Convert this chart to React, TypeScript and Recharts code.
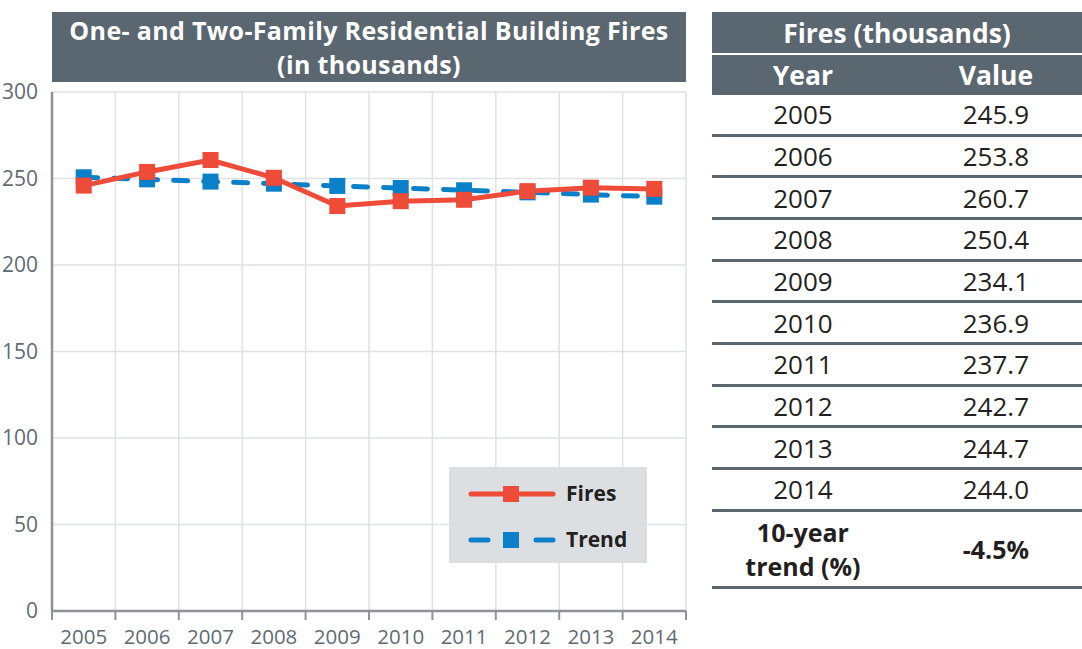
import React from 'react';
import { ComposedChart, Line, XAxis, YAxis, CartesianGrid, Legend } from 'recharts';

const years = ['2005', '2006', '2007', '2008', '2009', '2010', '2011', '2012', '2013', '2014'];
const firesValues = [245.9, 253.8, 260.7, 250.4, 234.1, 236.9, 237.7, 242.7, 244.7, 244.0];
const trendValues = [250.7, 249.5, 248.2, 247.0, 245.7, 244.5, 243.2, 242.0, 240.7, 239.5];
const yTicks = [0, 50, 100, 150, 200, 250, 300];
const gridTicks = [0, 1, 2, 3, 4, 5, 6, 7, 8, 9, 10];
const labelTicks = [0.5, 1.5, 2.5, 3.5, 4.5, 5.5, 6.5, 7.5, 8.5, 9.5];
const trendPercent = '-4.5%';

const RED = '#ee4b39';
const BLUE = '#0a80c8';
const DARK = '#5a6670';
const AXIS = '#8e9399';
const GRID = '#dfe1e4';
const FONT = '"Open Sans", "DejaVu Sans", sans-serif';

const data = years.map((year, i) => ({
  pos: i + 0.5,
  year,
  fires: firesValues[i],
  trend: trendValues[i],
}));

const squareDot = (color: string) => (props: any) => {
  const { cx, cy, index } = props;
  if (cx == null || cy == null) return <g key={index} />;
  return <rect key={index} x={cx - 8} y={cy - 8} width={16} height={16} fill={color} />;
};

const LegendBox = () => (
  <div style={{ width: 198, height: 96, background: '#dcdfe2', position: 'relative', fontFamily: FONT }}>
    <svg width={198} height={96} style={{ position: 'absolute', left: 0, top: 0 }}>
      <line x1={22} y1={27} x2={104} y2={27} stroke={RED} strokeWidth={5} strokeLinecap="round" />
      <rect x={54} y={19} width={16} height={16} fill={RED} />
      <line x1={22} y1={73} x2={39} y2={73} stroke={BLUE} strokeWidth={5} strokeLinecap="round" />
      <line x1={87} y1={73} x2={104} y2={73} stroke={BLUE} strokeWidth={5} strokeLinecap="round" />
      <rect x={54} y={65} width={16} height={16} fill={BLUE} />
      <text x={117} y={34} fontSize={21} fontWeight={700} fill="#231f20" fontFamily={FONT}>Fires</text>
      <text x={117} y={80} fontSize={21} fontWeight={700} fill="#231f20" fontFamily={FONT}>Trend</text>
    </svg>
  </div>
);

const rowStyle: React.CSSProperties = {
  display: 'flex',
  alignItems: 'center',
  height: 38.67,
  borderBottom: `3px solid ${DARK}`,
  fontSize: 26,
  color: '#231f20',
};

export default function App() {
  return (
    <div style={{ position: 'absolute', left: 0, top: 0, width: 1082, height: 649, background: '#fff', fontFamily: FONT }}>
      <div
        style={{
          position: 'absolute', left: 52, top: 12, width: 634, height: 70, background: DARK,
          color: '#fff', fontWeight: 700, fontSize: 25, letterSpacing: 0.35, lineHeight: '34px', textAlign: 'center',
          display: 'flex', flexDirection: 'column', justifyContent: 'center', whiteSpace: 'nowrap',
        }}
      >
        <div style={{ height: 34 }}>One- and Two-Family Residential Building Fires</div>
        <div style={{ height: 34 }}>(in thousands)</div>
      </div>

      <div style={{ position: 'absolute', left: 0, top: 0 }}>
        <ComposedChart width={700} height={649} data={data} margin={{ top: 92, right: 14, left: 0, bottom: 0 }}>
          <CartesianGrid xAxisId="grid" stroke={GRID} strokeWidth={1.5} />
          <XAxis
            xAxisId="grid"
            dataKey="pos"
            type="number"
            domain={[0, 10]}
            ticks={gridTicks}
            interval={0}
            height={9}
            tickSize={9}
            tickFormatter={() => ''}
            axisLine={{ stroke: AXIS, strokeWidth: 2.5 }}
            tickLine={{ stroke: AXIS, strokeWidth: 2 }}
          />
          <XAxis
            xAxisId="labels"
            dataKey="pos"
            type="number"
            domain={[0, 10]}
            ticks={labelTicks}
            interval={0}
            height={29}
            axisLine={false}
            tickLine={false}
            tickMargin={3}
            tickFormatter={(v: number) => years[Math.floor(v)]}
            tick={{ fill: '#5f6b74', fontSize: 20.5, fontFamily: FONT }}
          />
          <YAxis
            domain={[0, 300]}
            ticks={yTicks}
            interval={0}
            width={52}
            tickLine={false}
            tickMargin={8}
            axisLine={{ stroke: AXIS, strokeWidth: 2.5 }}
            tick={{ fill: '#5f6b74', fontSize: 21, fontFamily: FONT }}
          />
          <Legend
            layout="horizontal"
            verticalAlign="middle"
            align="center"
            wrapperStyle={{ position: 'absolute', left: 449, top: 467, width: 198, height: 96 }}
            content={() => <LegendBox />}
          />
          <Line
            xAxisId="grid"
            dataKey="trend"
            name="Trend"
            stroke={BLUE}
            strokeWidth={5}
            strokeDasharray="14 16"
            strokeLinecap="round"
            dot={squareDot(BLUE)}
            activeDot={false}
            isAnimationActive={false}
          />
          <Line
            xAxisId="grid"
            dataKey="fires"
            name="Fires"
            stroke={RED}
            strokeWidth={5}
            dot={squareDot(RED)}
            activeDot={false}
            isAnimationActive={false}
          />
        </ComposedChart>
      </div>

      <div style={{ position: 'absolute', left: 712, top: 12, width: 370 }}>
        <div style={{ height: 41, background: DARK, color: '#fff', fontWeight: 700, fontSize: 26.5, display: 'flex', alignItems: 'center', justifyContent: 'center' }}>
          Fires (thousands)
        </div>
        <div style={{ height: 2, background: '#fff' }} />
        <div style={{ height: 40, background: DARK, color: '#fff', fontWeight: 700, fontSize: 26.5, display: 'flex', alignItems: 'center' }}>
          <div style={{ width: 190, textAlign: 'center' }}>Year</div>
          <div style={{ width: 180, textAlign: 'center', paddingLeft: 16 }}>Value</div>
        </div>
        {years.map((y, i) => (
          <div key={y} style={rowStyle}>
            <div style={{ width: 190, textAlign: 'center' }}>{y}</div>
            <div style={{ width: 180, textAlign: 'center', paddingLeft: 16 }}>{firesValues[i].toFixed(1)}</div>
          </div>
        ))}
        <div style={{ ...rowStyle, height: 74, fontWeight: 700, fontSize: 25, lineHeight: '34px' }}>
          <div style={{ width: 190, textAlign: 'center' }}>10-year<br />trend (%)</div>
          <div style={{ width: 180, textAlign: 'center', paddingLeft: 16 }}>{trendPercent}</div>
        </div>
      </div>
    </div>
  );
}
